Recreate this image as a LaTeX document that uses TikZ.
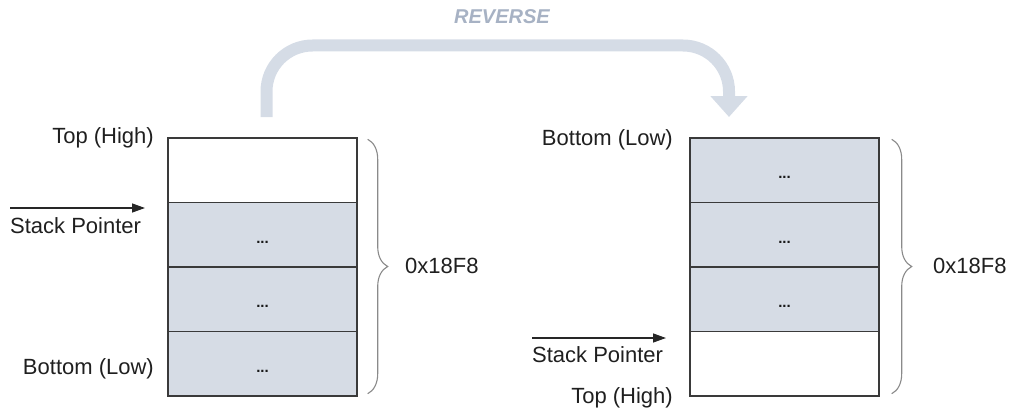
\documentclass[tikz,border=0pt]{standalone}
\usepackage{fontspec}
\setmainfont{Liberation Sans}
\usetikzlibrary{arrows.meta,calc,decorations.pathreplacing}

\definecolor{cellfill}{HTML}{D6DCE5}
\definecolor{cellline}{HTML}{3A3A3A}
\definecolor{bracegray}{HTML}{8A8A8A}
\definecolor{revfill}{HTML}{D5DCE6}
\definecolor{revtext}{HTML}{A7B2C4}

\tikzset{
  cell/.style={rectangle, draw=cellline, line width=1.4pt,
    minimum width=189pt, minimum height=64.5pt, inner sep=0pt},
  usedcell/.style={cell, fill=cellfill},
  freecell/.style={cell, fill=white},
  dotmark/.style={font=\bfseries\fontsize{15}{15}\selectfont, inner sep=0pt, text=black!90},
  lbl/.style={font=\fontsize{22}{25}\selectfont, inner sep=0pt, text=black!88},
  spointer/.style={line width=1.3pt, draw=black!85, -{Triangle[length=13pt,width=9pt]}},
  sizebrace/.style={draw=bracegray, line width=1.1pt,
    decorate, decoration={brace, amplitude=20pt}},
  revarrow/.style={draw=revfill, line width=12pt, rounded corners=46pt,
    -{Triangle[length=21pt,width=36pt]}, fill=none},
}

\begin{document}
\begin{tikzpicture}[x=1pt, y=-1pt]
\useasboundingbox (0,0) rectangle (1011,412);

% ---- stack before reversal ----
\node[freecell] (l1) at (262.5,170.25) {};
\node[usedcell] (l2) at (262.5,234.75) {};
\node[usedcell] (l3) at (262.5,299.25) {};
\node[usedcell] (l4) at (262.5,363.75) {};
\foreach \c in {l2,l3,l4}
  \node[dotmark] (\c dots) at ($(\c.center)+(0,7.5)$) {...};

\node[lbl, anchor=east] (ltop) at (154,138) {Top (High)};
\node[lbl, anchor=east] (lbot) at (154,369) {Bottom (Low)};
\node[lbl, anchor=west] (lsp) at (10,226) {Stack Pointer};
\coordinate (lspA) at (10,208);
\coordinate (lspB) at (145,208);
\draw[spointer] (lspA) -- (lspB);

\draw[sizebrace] ([xshift=10pt,yshift=-2pt]l1.north east) -- ([xshift=10pt,yshift=3pt]l4.south east);
\node[lbl, anchor=west] (lsize) at (405,266) {0x18F8};

% ---- stack after reversal ----
\node[usedcell] (r1) at (784.5,170.25) {};
\node[usedcell] (r2) at (784.5,234.75) {};
\node[usedcell] (r3) at (784.5,299.25) {};
\node[freecell] (r4) at (784.5,363.75) {};
\foreach \c in {r1,r2,r3}
  \node[dotmark] (\c dots) at ($(\c.center)+(0,7.5)$) {...};

\node[lbl, anchor=east] (rbot) at (673,140) {Bottom (Low)};
\node[lbl, anchor=east] (rtop) at (673,398) {Top (High)};
\node[lbl, anchor=west] (rsp) at (532,355) {Stack Pointer};
\coordinate (rspA) at (532,338);
\coordinate (rspB) at (666,338);
\draw[spointer] (rspA) -- (rspB);

\draw[sizebrace] ([xshift=12pt,yshift=-2pt]r1.north east) -- ([xshift=12pt,yshift=3pt]r4.south east);
\node[lbl, anchor=west] (rsize) at (933,266) {0x18F8};

% ---- reverse arrow ----
\coordinate (revA) at (266.5,117);
\coordinate (revB) at (729,117);
\draw[revarrow] (revA) -- (266.5,45.5) -- (729,45.5) -- (revB);
\node[font=\bfseries\itshape\fontsize{20}{22}\selectfont, text=revtext, inner sep=0pt] (revlbl) at (502,17) {REVERSE};

\end{tikzpicture}
\end{document}
